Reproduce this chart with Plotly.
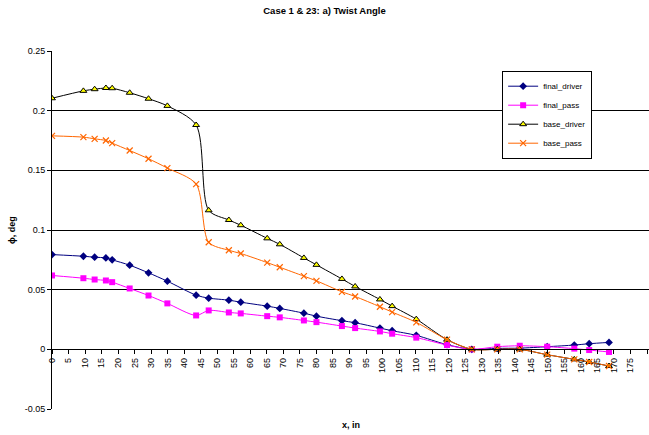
import plotly.graph_objects as go

x_in = [0, 9.5, 12.9, 16.3, 18.2, 23.5, 29.2, 34.9, 43.6, 47.4, 53.5, 57.1, 65.1, 68.9,
        76.2, 80, 87.7, 91.7, 99.2, 102.9, 110.2, 119.5, 127, 134.7, 141.5, 149.8, 158, 162.5, 168.5]

final_driver = [0.0794, 0.078, 0.0772, 0.0766, 0.075, 0.0705, 0.0641, 0.0571, 0.0454, 0.0429,
                0.0412, 0.0395, 0.0362, 0.0343, 0.0303, 0.0278, 0.024, 0.0223, 0.0178, 0.0156,
                0.0117, 0.0039, 0.0, 0.0008, 0.001, 0.0022, 0.0036, 0.0047, 0.0058]
final_pass = [0.0619, 0.0596, 0.0585, 0.0577, 0.0563, 0.051, 0.0451, 0.0385, 0.0284, 0.0326,
              0.0309, 0.0301, 0.0278, 0.0268, 0.0242, 0.0228, 0.0195, 0.0178, 0.015, 0.0131,
              0.0098, 0.0036, 0.0, 0.0022, 0.003, 0.0022, 0.0006, -0.0006, -0.0022]
base_driver = [0.2104, 0.2166, 0.218, 0.219, 0.2188, 0.215, 0.210, 0.204, 0.188, 0.1165,
               0.1084, 0.104, 0.093, 0.088, 0.0766, 0.0708, 0.059, 0.0527, 0.0418, 0.0362,
               0.0253, 0.0081, 0.0, 0.0, 0.0, -0.0045, -0.0084, -0.0106, -0.014]
base_pass = [0.1789, 0.1778, 0.1764, 0.175, 0.1728, 0.1666, 0.1597, 0.1519, 0.1385, 0.0897,
             0.083, 0.0803, 0.0727, 0.0688, 0.0613, 0.0574, 0.0482, 0.0443, 0.0357, 0.0312,
             0.0226, 0.0081, 0.0, 0.0, 0.0, -0.0045, -0.0084, -0.0106, -0.014]

x_ticks = list(range(0, 181, 5))
y_ticks = [-0.05, 0, 0.05, 0.1, 0.15, 0.2, 0.25]
y_tick_text = ["-0.05", "0", "0.05", "0.1", "0.15", "0.2", "0.25"]
grid_vals = [0, 0.05, 0.1, 0.15, 0.2, 0.25]

FONT = "Liberation Sans, Arial, sans-serif"

fig = go.Figure()

series = [
    ("final_driver", final_driver, "#000080", dict(symbol="diamond", size=6, color="#000080")),
    ("final_pass", final_pass, "#FF00FF", dict(symbol="square", size=6, color="#FF00FF")),
    ("base_driver", base_driver, "#000000",
     dict(symbol="triangle-up", size=6, color="#FFFF00", line=dict(color="#000000", width=1))),
    ("base_pass", base_pass, "#FF6600",
     dict(symbol="x-thin", size=6, color="#FF6600", line=dict(color="#FF6600", width=1.2))),
]

for name, ys, col, mk in series:
    fig.add_trace(go.Scatter(
        x=x_in, y=ys, name=name, mode="lines+markers",
        line=dict(color=col, width=1, shape="spline", smoothing=0.8),
        marker=mk,
    ))

# invisible trace on secondary y for gridlines
fig.add_trace(go.Scatter(x=[0], y=[0], yaxis="y2", showlegend=False,
                         mode="markers", marker=dict(opacity=0), hoverinfo="skip"))

fig.update_layout(
    width=649, height=435,
    margin=dict(l=52, r=0, t=51, b=26),
    paper_bgcolor="white", plot_bgcolor="white",
    font=dict(family=FONT, size=9, color="black"),
    title=dict(text="<b>Case 1 & 23: a) Twist Angle</b>", x=0.5, xanchor="center",
               y=1 - 11 / 435, yanchor="middle", font=dict(size=9.5, family=FONT)),
    xaxis=dict(range=[0, 180.6], tickvals=x_ticks, ticktext=[str(v) for v in x_ticks],
               tickangle=-90, ticks="outside", ticklen=4, tickcolor="black",
               showline=True, linecolor="black", linewidth=1, showgrid=False,
               zeroline=False, anchor="free", position=1 / 6,
               tickfont=dict(size=9)),
    yaxis=dict(range=[-0.05, 0.25], tickvals=y_ticks, ticktext=y_tick_text,
               ticks="outside", ticklen=4, tickcolor="black",
               showline=True, linecolor="black", linewidth=1, showgrid=False,
               zeroline=False, tickfont=dict(size=9),
               title=dict(text="<b>ϕ, deg</b>", font=dict(size=9), standoff=7)),
    yaxis2=dict(range=[-0.05, 0.25], overlaying="y", tickvals=grid_vals,
                showticklabels=False, showgrid=True, gridcolor="black", gridwidth=1,
                zeroline=False, showline=False, layer="below traces"),
    legend=dict(x=0.754, y=0.945, xanchor="left", yanchor="top",
                bgcolor="white", bordercolor="black", borderwidth=1,
                font=dict(size=8, family=FONT), tracegroupgap=0, itemwidth=30),
    annotations=[dict(text="<b>x, in</b>", x=0.5, xref="paper", y=0,
                      yref="paper", yshift=-16, showarrow=False, xanchor="center",
                      yanchor="middle", font=dict(size=9))],
    showlegend=True,
)

fig.write_html("out.html")
